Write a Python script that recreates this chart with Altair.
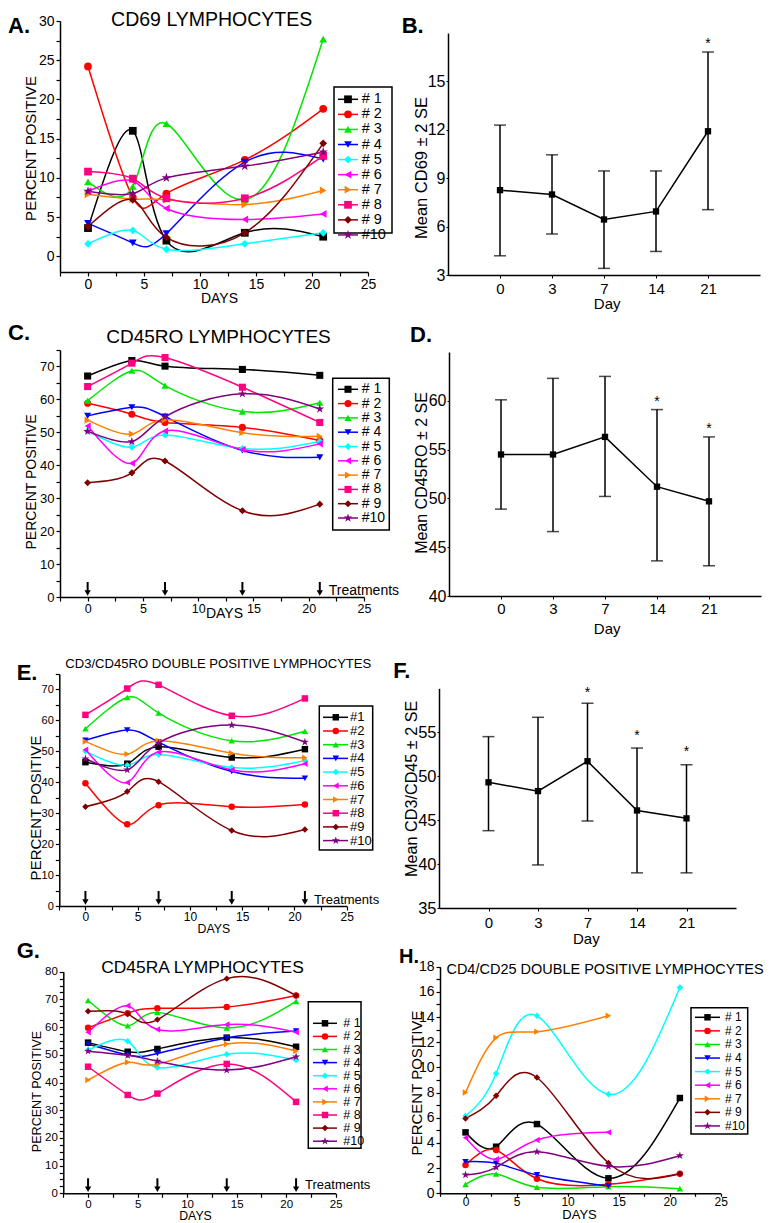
import altair as alt
import pandas as pd

FONT = "Liberation Sans"

KEYS = ["s1", "s2", "s3", "s4", "s5", "s6", "s7", "s8", "s9", "s10"]
COLORS = ["#000000", "#ff0000", "#00e600", "#0000ff", "#00ffff", "#ff00ff",
          "#ff8000", "#ff0080", "#800000", "#800080"]
STAR = ("M0,-1.3L0.292,-0.402L1.236,-0.402L0.472,0.153L0.764,1.052L0,0.497"
        "L-0.764,1.052L-0.472,0.153L-1.236,-0.402L-0.292,-0.402Z")
SHAPES = ["square", "circle", "triangle-up", "triangle-down", "diamond",
          "triangle-left", "triangle-right", "square", "diamond", STAR]

LABELS_SPACED = ["# 1", "# 2", "# 3", "# 4", "# 5", "# 6", "# 7", "# 8", "# 9", "#10"]
LABELS_TIGHT = ["#1", "#2", "#3", "#4", "#5", "#6", "#7", "#8", "#9", "#10"]
LABELS_H = ["# 1", "# 2", "# 3", "# 4", "# 5", "# 6", "# 7", "# 9", "#10"]

TREAT_DAYS = [0, 7, 14, 21]

# ---- A: CD69 lymphocytes ----
A_DAYS = [0, 4, 7, 14, 21]
A_VALUES = [
    [3.6, 16.0, 2.0, 3.0, 2.5],
    [24.2, 7.5, 8.0, 12.3, 18.8],
    [9.5, 8.9, 16.9, 7.2, 27.7],
    [4.2, 1.7, 2.9, 12.0, 12.4],
    [1.6, 3.3, 0.9, 1.6, 3.0],
    [8.3, 9.6, 6.1, 4.7, 5.4],
    [7.9, 7.3, 7.2, 6.6, 8.4],
    [10.8, 9.9, 7.4, 7.4, 12.8],
    [3.8, 7.2, 2.4, 3.0, 14.4],
    [8.3, 8.0, 10.0, 11.5, 13.3],
]

# ---- C: CD45RO lymphocytes ----
C_DAYS = [0, 4, 7, 14, 21]
C_VALUES = [
    [67.1, 71.8, 70.1, 69.1, 67.3],
    [58.8, 55.5, 53.0, 51.5, 47.5],
    [59.6, 68.7, 64.2, 56.3, 59.0],
    [55.0, 57.6, 54.8, 44.5, 42.4],
    [50.4, 45.5, 49.2, 45.1, 47.2],
    [51.9, 40.6, 50.4, 44.8, 46.5],
    [53.7, 49.5, 53.8, 49.9, 48.8],
    [63.9, 71.0, 72.7, 63.7, 53.0],
    [34.7, 37.7, 41.3, 26.2, 28.2],
    [50.3, 47.2, 54.7, 61.7, 57.1],
]

# ---- E: CD3/CD45RO double positive ----
E_DAYS = [0, 4, 7, 14, 21]
E_VALUES = [
    [46.5, 46.0, 51.5, 48.0, 50.7],
    [39.7, 26.4, 32.6, 32.1, 32.8],
    [57.3, 67.4, 62.4, 53.4, 56.5],
    [53.6, 56.9, 53.0, 43.5, 41.3],
    [50.0, 45.5, 49.0, 44.8, 47.0],
    [50.5, 39.9, 49.8, 44.0, 46.0],
    [53.2, 49.1, 53.4, 49.4, 47.9],
    [61.8, 70.3, 71.5, 61.5, 67.1],
    [32.1, 37.0, 40.2, 24.4, 24.7],
    [47.6, 44.0, 52.7, 58.5, 53.0],
]

# ---- G: CD45RA lymphocytes ----
G_DAYS = [0, 4, 7, 14, 21]
G_VALUES = [
    [54.4, 51.1, 52.1, 56.2, 52.9],
    [59.8, 65.0, 66.8, 67.3, 71.4],
    [69.6, 60.5, 65.3, 59.7, 69.3],
    [53.9, 49.9, 50.5, 56.1, 58.6],
    [51.7, 54.9, 45.4, 50.2, 48.1],
    [58.1, 67.7, 59.1, 60.9, 58.1],
    [40.9, 47.3, 46.6, 53.9, 51.4],
    [45.7, 35.5, 36.0, 46.7, 33.0],
    [65.7, 64.7, 62.7, 77.5, 71.4],
    [51.3, 49.8, 47.7, 44.5, 49.3],
]

# ---- H: CD4/CD25 double positive (no #8) ----
H_DAYS = [0, 3, 7, 14, 21]
H_SERIES = [0, 1, 2, 3, 4, 5, 6, 8, 9]
H_VALUES = [
    [4.84, 3.70, 5.50, 1.19, 7.57],
    [2.25, 3.44, 1.16, 0.71, 1.56],
    [0.71, 1.53, 0.48, 0.53, 0.37],
    [2.51, 2.38, 1.46, 0.58, None],
    [6.14, 9.52, 14.10, 7.86, 16.35],
    [4.42, 2.70, 4.23, 4.84, None],
    [8.00, 12.35, 12.83, 14.10, None],
    [5.95, 7.75, 9.20, 2.41, 1.56],
    [1.46, 2.06, 3.30, 2.14, 2.99],
]

# ---- Mean +/- 2 SE panels ----
ERR_DAYS = ["0", "3", "7", "14", "21"]
B_MEAN = [8.26, 7.99, 6.44, 6.94, 11.91]
B_LO = [4.19, 5.54, 3.41, 4.46, 7.05]
B_HI = [12.29, 10.45, 9.45, 9.45, 16.82]
B_STAR_DAYS = ["21"]
B_STAR_Y = [17.5]

D_MEAN = [54.5, 54.5, 56.3, 51.2, 49.7]
D_LO = [48.9, 46.6, 50.2, 43.6, 43.1]
D_HI = [60.1, 62.3, 62.5, 59.1, 56.3]
D_STAR_DAYS = ["14", "21"]
D_STAR_Y = [60.2, 57.4]

F_MEAN = [49.3, 48.3, 51.7, 46.1, 45.2]
F_LO = [43.8, 39.9, 44.9, 39.0, 39.0]
F_HI = [54.5, 56.7, 58.3, 53.2, 51.3]
F_STAR_DAYS = ["7", "14", "21"]
F_STAR_Y = [59.8, 54.9, 53.1]

ONE = pd.DataFrame({"k": [0]})

# one shared drawing area; page coordinates are shifted by the 8px page margin
OX, OY = 8, 8
VW, VH = 757, 1207


def vx(x):
    return round(x - OX, 2)


def vy(y):
    return round(y - OY, 2)


def ticks(lo, hi, step):
    n = int(round((hi - lo) / step))
    return [round(lo + k * step, 3) for k in range(n + 1)]


def long_df(days, values, idxs):
    rows = []
    for i, vals in zip(idxs, values):
        for d, v in zip(days, vals):
            if v is not None:
                rows.append({"series": KEYS[i], "day": d, "value": v})
    return pd.DataFrame(rows)


def color_enc():
    return alt.Color("series:N", scale=alt.Scale(domain=KEYS, range=COLORS), legend=None)


def shape_enc():
    return alt.Shape("series:N", scale=alt.Scale(domain=KEYS, range=SHAPES), legend=None)


def text_at(txt, x, y, size, weight="normal", align="center", baseline="middle"):
    return alt.Chart(ONE).mark_text(
        text=txt, fontSize=size, fontWeight=weight, align=align,
        baseline=baseline, color="black", font=FONT
    ).encode(x=alt.value(vx(x)), y=alt.value(vy(y)))


def line_panel(P):
    L, R, T, B = P["box"]
    df = long_df(P["days"], P["values"], P["idx"])
    xs = alt.Scale(domain=[-2.5, 25], range=[vx(L), vx(R)], nice=False, zero=False)
    ys = alt.Scale(domain=P["ydom"], range=[vy(B), vy(T)], nice=False, zero=False)
    xaxis = alt.Axis(
        orient="bottom", offset=-(VH - vy(B)),
        values=ticks(-2.5, 25, 2.5),
        labelExpr="datum.value % 5 == 0 ? '' + datum.value : ''",
        title="DAYS", titleX=vx(P["dx"]), titleY=P["dy"], titleAlign="center",
        titleBaseline="middle", titleFontSize=P["dfs"], labelFontSize=P["xlfs"],
        tickSize=P.get("xts", 4), labelPadding=P.get("xlp", 1), labelFlush=False,
        labelOverlap=False, domainWidth=1.5, tickWidth=1.2)
    yaxis = alt.Axis(
        orient="left", offset=-vx(L),
        values=ticks(*P["ytick"]),
        labelExpr="datum.value %% %s == 0 ? '' + datum.value : ''" % P["ylab"],
        title="PERCENT POSITIVE", titleX=P["ytx"], titleY=vy(P["yty"]), titleAngle=270,
        titleAlign="center", titleBaseline="middle", titleFontSize=P["ytfs"],
        labelFontSize=P["ylfs"], tickSize=4, labelPadding=2, labelFlush=False,
        labelOverlap=False, domainWidth=1.5, tickWidth=1.2)
    X = alt.X("day:Q", scale=xs, axis=xaxis)
    Y = alt.Y("value:Q", scale=ys, axis=yaxis)
    base = alt.Chart(df)
    lines = base.mark_line(interpolate="natural", strokeWidth=1.5).encode(
        x=X, y=Y, color=color_enc())
    pts = base.mark_point(filled=True, opacity=1, size=P["ms"], strokeWidth=0).encode(
        x=X, y=Y, color=color_enc(), shape=shape_enc())
    layers = [lines, pts]
    if P["arrows"]:
        tb = alt.Chart(pd.DataFrame({"day": TREAT_DAYS}))
        layers.append(tb.mark_rule(color="black", strokeWidth=2).encode(
            x=X, y=alt.value(vy(B) - 15), y2=alt.value(vy(B) - 6)))
        layers.append(tb.mark_point(shape="triangle-down", filled=True, color="black",
                                    size=40, opacity=1).encode(x=X, y=alt.value(vy(B) - 4)))
        layers.append(alt.Chart(pd.DataFrame({"day": TREAT_DAYS[-1:]})).mark_text(
            text="Treatments", align="left", baseline="middle", dx=9,
            fontSize=P["trfs"], color="black", font=FONT).encode(
            x=X, y=alt.value(vy(B) - P["trdy"])))
    data_layer = alt.layer(*layers)

    Lg = P["leg"]
    ldf = pd.DataFrame({"series": [KEYS[i] for i in P["idx"]],
                        "label": P["labels"],
                        "idx": list(range(len(P["idx"])))})
    ly = alt.Y("py:Q", scale=alt.Scale(domain=[0, VH], range=[0, VH]), axis=None)
    lb = alt.Chart(ldf).transform_calculate(
        py="%s + datum.idx * %s" % (vy(Lg["first"]), Lg["step"]))
    box = alt.Chart(ONE).mark_rect(fill="white", stroke="black", strokeWidth=1.5).encode(
        x=alt.value(vx(Lg["bx"][0])), x2=alt.value(vx(Lg["bx"][1])),
        y=alt.value(vy(Lg["by"][0])), y2=alt.value(vy(Lg["by"][1])))
    segs = lb.mark_rule(strokeWidth=1.5).encode(
        x=alt.value(vx(Lg["sx"][0])), x2=alt.value(vx(Lg["sx"][1])), y=ly, color=color_enc())
    lpts = lb.mark_point(filled=True, opacity=1, size=P["ms"], strokeWidth=0).encode(
        x=alt.value(vx(Lg["mx"])), y=ly, color=color_enc(), shape=shape_enc())
    ltxt = lb.mark_text(align="left", baseline="middle", fontSize=Lg["fs"], color="black",
                        font=FONT).encode(x=alt.value(vx(Lg["tx"])), y=ly, text="label:N")
    legend = alt.layer(box, segs, lpts, ltxt)

    decos = [text_at(P["title"], P["tx"], P["ty"], P["tfs"]),
             text_at(P["letter"], P["lx"], P["ly"], P.get("lfs", 22), weight="bold",
                     align="left", baseline="alphabetic")]
    return alt.layer(data_layer, legend, *decos).resolve_scale(y="independent")


def err_panel(P):
    L, R, T, B = P["box"]
    df = pd.DataFrame({"day": ERR_DAYS, "ord": list(range(5)), "mean": P["mean"],
                       "lo": P["lo"], "hi": P["hi"]})
    sdf = pd.DataFrame({"day": P["sdays"], "sy": P["sy"]})
    ys = alt.Scale(domain=P["ydom"], range=[vy(B), vy(T)], nice=False, zero=False)
    yaxis = alt.Axis(orient="left", offset=-vx(L), values=P["yvals"], title=P["ytitle"],
                     titleX=P["ytx"], titleY=vy(P["yty"]),
                     titleAngle=270, titleAlign="center", titleBaseline="middle",
                     titleFontSize=P["ytfs"], labelFontSize=P["ylfs"], tickSize=2,
                     labelPadding=1, labelFlush=False, labelOverlap=False, domainWidth=1.5)
    X = alt.X("day:N", sort=ERR_DAYS,
              scale=alt.Scale(type="point", padding=P["pad"], range=[vx(L), vx(R)]),
              axis=alt.Axis(orient="bottom", offset=-(VH - vy(B)), title="Day",
                            labelAngle=0, labelFontSize=15, tickSize=3,
                            labelPadding=P["xlp"], titleX=vx(P["dx"]), titleY=P["dy"],
                            titleAlign="center", titleBaseline="middle", titleFontSize=15,
                            domainWidth=1.5, labelFlush=False))
    base = alt.Chart(df)
    rule = base.mark_rule(color="black", strokeWidth=1.5).encode(
        x=X, y=alt.Y("lo:Q", scale=ys, axis=yaxis), y2="hi:Q")
    cap_lo = base.mark_tick(color="black", thickness=1.5, size=12, orient="horizontal").encode(
        x=X, y=alt.Y("lo:Q", scale=ys, axis=yaxis))
    cap_hi = base.mark_tick(color="black", thickness=1.5, size=12, orient="horizontal").encode(
        x=X, y=alt.Y("hi:Q", scale=ys, axis=yaxis))
    line = base.mark_line(color="black", strokeWidth=1.5).encode(
        x=X, y=alt.Y("mean:Q", scale=ys, axis=yaxis), order="ord:Q")
    sq = base.mark_square(color="black", size=40, opacity=1).encode(
        x=X, y=alt.Y("mean:Q", scale=ys, axis=yaxis))
    stars = alt.Chart(sdf).mark_text(text="*", fontSize=14, color="black", baseline="middle",
                                     dy=3, font=FONT).encode(
        x=X, y=alt.Y("sy:Q", scale=ys, axis=yaxis))
    letter = text_at(P["letter"], P["lx"], P["ly"], 22, weight="bold", align="left",
                     baseline="alphabetic")
    return alt.layer(rule, cap_lo, cap_hi, line, sq, stars, letter)


A = line_panel(dict(
    box=(60, 368, 21, 272), days=A_DAYS, values=A_VALUES, idx=list(range(10)),
    labels=LABELS_SPACED, ydom=[-2, 30], ytick=(0, 30, 2.5), ylab=5,
    title="CD69 LYMPHOCYTES", tx=211.7, ty=19.5, tfs=19.5, letter="A.", lx=8, ly=33,
    dx=219, dy=26.5, dfs=14, xlfs=14, ytx=-30, yty=148, ytfs=15, ylfs=14, ms=60,
    arrows=False,
    leg=dict(bx=(334, 392), by=(87, 233), first=99.3, step=15.07, sx=(338, 358), mx=348,
             tx=361.7, fs=14.5)))

C = line_panel(dict(
    box=(60, 364, 350, 597), days=C_DAYS, values=C_VALUES, idx=list(range(10)),
    labels=LABELS_SPACED, ydom=[0, 75], ytick=(0, 75, 5), ylab=10,
    title="CD45RO LYMPHOCYTES", tx=218.5, ty=337, tfs=19, letter="C.", lx=8, ly=340,
    dx=224, dy=16, dfs=14, xlfs=12.5, ytx=-29, yty=481.5, ytfs=14, ylfs=13, ms=50,
    arrows=True, trfs=14, trdy=6,
    leg=dict(bx=(332.7, 389.3), by=(378.3, 530), first=389.3, step=14.3, sx=(338, 358),
             mx=348, tx=361.7, fs=14)))

E = line_panel(dict(
    box=(59.3, 346.7, 674, 906), days=E_DAYS, values=E_VALUES, idx=list(range(10)),
    labels=LABELS_TIGHT, ydom=[0, 75], ytick=(0, 75, 5), ylab=10,
    title="CD3/CD45RO DOUBLE POSITIVE LYMPHOCYTES", tx=218.3, ty=664, tfs=13.1,
    letter="E.", lx=16.7, ly=680, dx=213.3, dy=22, dfs=12.3, xlfs=12, ytx=-24,
    yty=807.5, ytfs=15, ylfs=11, ms=42, arrows=True, trfs=13, trdy=6,
    leg=dict(bx=(319.3, 372.7), by=(706, 850), first=717.3, step=13.7, sx=(323, 348),
             mx=335.8, tx=350, fs=13)))

G = line_panel(dict(
    box=(63.3, 335.7, 971.7, 1193.3), days=G_DAYS, values=G_VALUES, idx=list(range(10)),
    labels=LABELS_SPACED, ydom=[0, 80], ytick=(0, 80, 2.5), ylab=10,
    title="CD45RA LYMPHOCYTES", tx=202.5, ty=968, tfs=17.4, letter="G.", lx=16.7,
    ly=958.3, dx=195, dy=21.7, dfs=12.3, xlfs=11.5, ytx=-26.7, yty=1091, ytfs=12.6,
    ylfs=11.5, ms=42, arrows=True, trfs=13, trdy=8,
    leg=dict(bx=(308.3, 361), by=(1001.7, 1148.3), first=1023.3, step=13.1,
             sx=(313, 337), mx=325, tx=343.3, fs=12.5)))

H = line_panel(dict(
    box=(440, 720.7, 966.7, 1193.3), days=H_DAYS, values=H_VALUES, idx=H_SERIES,
    labels=LABELS_H, ydom=[0, 18], ytick=(0, 18, 1), ylab=2,
    title="CD4/CD25 DOUBLE POSITIVE LYMPHOCYTES", tx=605, ty=970, tfs=14.5,
    letter="H.", lx=399, ly=963, lfs=20, dx=579, dy=21.5, dfs=13, xlfs=12, xts=3,
    xlp=0, ytx=-24, yty=1082.5, ytfs=15, ylfs=14, ms=42, arrows=False,
    leg=dict(bx=(691, 747.7), by=(1007.7, 1134), first=1017.3, step=13.58,
             sx=(695, 720), mx=707.5, tx=725, fs=12)))

B = err_panel(dict(
    box=(448, 760, 33, 275), mean=B_MEAN, lo=B_LO, hi=B_HI, sdays=B_STAR_DAYS,
    sy=B_STAR_Y, ydom=[3, 18], yvals=[3, 6, 9, 12, 15], ytitle="Mean CD69 ± 2 SE",
    ytx=-26.3, yty=167.5, ytfs=16.5, ylfs=16, pad=1.12, dx=606.7, dy=28, xlp=3,
    letter="B.", lx=401.7, ly=33.3))

D = err_panel(dict(
    box=(449, 761, 352, 596), mean=D_MEAN, lo=D_LO, hi=D_HI, sdays=D_STAR_DAYS,
    sy=D_STAR_Y, ydom=[40, 65], yvals=[40, 45, 50, 55, 60], ytitle="Mean CD45RO ± 2 SE",
    ytx=-27.3, yty=472.5, ytfs=16, ylfs=16, pad=1.12, dx=606.7, dy=32, xlp=2,
    letter="D.", lx=410, ly=341.7))

F = err_panel(dict(
    box=(439, 736, 688.3, 908), mean=F_MEAN, lo=F_LO, hi=F_HI, sdays=F_STAR_DAYS,
    sy=F_STAR_Y, ydom=[35, 60], yvals=[35, 40, 45, 50, 55],
    ytitle="Mean CD3/CD45 ± 2 SE", ytx=-27.3, yty=788.3, ytfs=16.2, ylfs=16.5,
    pad=1.113, dx=585.8, dy=30, xlp=4, letter="F.", lx=393.3, ly=678.3))

chart = alt.layer(A, B, C, D, E, F, G, H).resolve_scale(
    x="independent", y="independent"
).properties(width=VW, height=VH, padding=0).configure(font=FONT).configure_axis(
    domainColor="black", tickColor="black", labelColor="black", titleColor="black",
    titleFontWeight="normal", labelFont=FONT, titleFont=FONT, grid=False
).configure_view(stroke=None)

chart.save("out.html", embed_options={"renderer": "svg", "actions": False})
